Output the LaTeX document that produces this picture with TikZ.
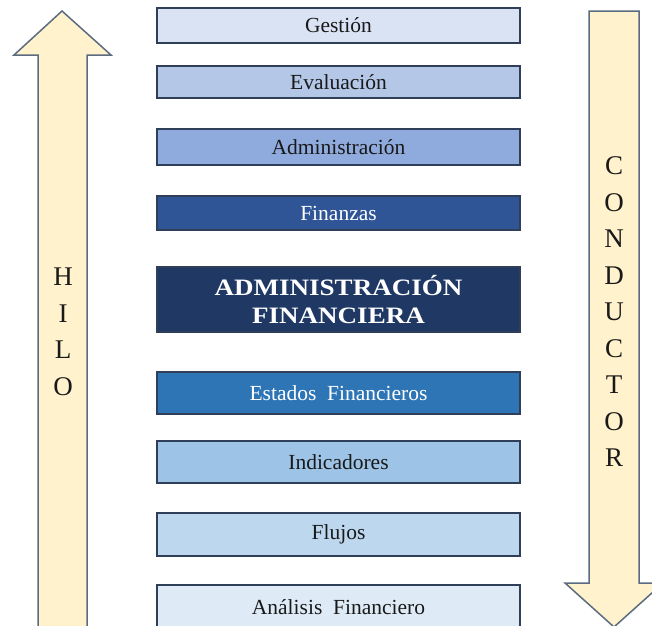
\documentclass[tikz,border=0pt]{standalone}
\usepackage{fontspec}
\setmainfont{Liberation Serif}
\newfontfamily\widebold{Liberation Serif}[FakeStretch=1.15]
\definecolor{arrfill}{HTML}{FFF2CC}
\definecolor{arrline}{HTML}{5B6B80}
\definecolor{boxline}{HTML}{2F3F5A}
\definecolor{cGes}{HTML}{DAE3F3}
\definecolor{cEva}{HTML}{B4C7E7}
\definecolor{cAdm}{HTML}{8FAADC}
\definecolor{cFin}{HTML}{2F5597}
\definecolor{cAF}{HTML}{203864}
\definecolor{cEst}{HTML}{2E75B6}
\definecolor{cInd}{HTML}{9DC3E6}
\definecolor{cFlu}{HTML}{BDD7EE}
\definecolor{cAna}{HTML}{DEEBF7}
\tikzset{
  lvl/.style={draw=boxline, line width=1.2pt, minimum width=363pt, inner sep=0pt, font=\fontsize{21.5}{23}\selectfont, text=black!90},
  bigarrow/.style={draw=arrline, fill=arrfill, line width=1.5pt, line join=miter},
  vword/.style={align=center, font=\fontsize{27}{36.5}\selectfont, text=black!90, inner sep=0pt}
}
\begin{document}
\begin{tikzpicture}[x=1pt,y=-1pt]
\useasboundingbox (0,0) rectangle (652,625);
% left arrow (up)
\draw[bigarrow] (62,11) -- (111,55) -- (87,55) -- (87,640) -- (38,640) -- (38,55) -- (14,55) -- cycle;
% right arrow (down)
\draw[bigarrow] (589,11) -- (639,11) -- (639,583) -- (663,583) -- (614,627) -- (565,583) -- (589,583) -- cycle;
\node[vword] (hilo) at (63,332) {H\\I\\L\\O};
\node[vword] (conductor) at (614,312) {C\\O\\N\\D\\U\\C\\T\\O\\R};
% boxes
\node[lvl, fill=cGes, minimum height=35pt] (ges) at (338.5,25.5) {Gestión};
\node[lvl, fill=cEva, minimum height=32pt] (eva) at (338.5,82) {Evaluación};
\node[lvl, fill=cAdm, minimum height=36pt] (adm) at (338.5,147) {Administración};
\node[lvl, fill=cFin, minimum height=34pt, text=white] (fin) at (338.5,213) {Finanzas};
\node[lvl, fill=cAF, minimum height=65pt, text=white, align=center, font=\widebold\bfseries\fontsize{23.5}{28}\selectfont] (af) at (338.5,299.5) {ADMINISTRACIÓN\\FINANCIERA};
\node[lvl, fill=cEst, minimum height=42pt, text=white] (est) at (338.5,393) {Estados\ \ Financieros};
\node[lvl, fill=cInd, minimum height=42pt] (ind) at (338.5,462) {Indicadores};
\node[lvl, fill=cFlu, minimum height=43pt] (flu) at (338.5,534.5) {Flujos};
\node[lvl, fill=cAna, minimum height=45pt] (ana) at (338.5,607.5) {Análisis\ \ Financiero};
\end{tikzpicture}
\end{document}
